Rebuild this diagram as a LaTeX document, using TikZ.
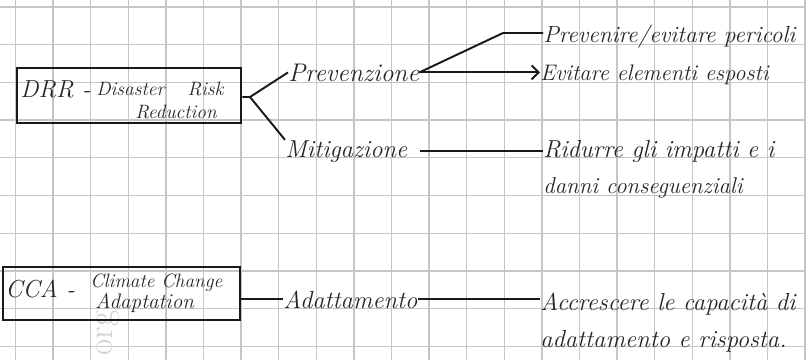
\documentclass[tikz,border=0pt]{standalone}
\usepackage{tikz}
\usetikzlibrary{arrows.meta}

\begin{document}
\begin{tikzpicture}[x=0.02cm, y=-0.02cm, >={Straight Barb[length=4pt]},
  gridline/.style={gray!45, line width=0.7pt},
  boxnode/.style={draw=black!90, line width=1.5pt, inner sep=0pt},
  link/.style={black!90, line width=1.1pt},
  hand/.style={inner sep=0pt, anchor=base west, text=black!85,
    font=\fontsize{#1}{#1}\selectfont\itshape},
  hand/.default=14]

% -------------------------------------------------------
% 1. Squared paper
% -------------------------------------------------------
\useasboundingbox (0,0) rectangle (806,360);
\fill[white] (0,0) rectangle (806,360);
\foreach \gx in {0,...,21} {
  \draw[gridline] ({15.5+37.6*\gx},0) -- ({15.5+37.6*\gx},360);
}
\foreach \gy in {0,...,9} {
  \draw[gridline] (0,{7+37.7*\gy}) -- (806,{7+37.7*\gy});
}
\node[gray!35, rotate=90, font=\fontsize{20}{20}\selectfont] (wmark) at (108,333) {org};

% -------------------------------------------------------
% 2. DRR branch
% -------------------------------------------------------
\node[boxnode, minimum width=4.48cm, minimum height=1.1cm] (drr) at (129,95.5) {};
\node[hand=14] (drrname) at (20,97) {DRR -};
\node[hand=11] (drrtop) at (96,95) {Disaster\hspace{1.2em}Risk};
\node[hand=11] (drrbot) at (135,118) {Reduction};

\node[hand=14.5] (prev) at (288,81) {Prevenzione};
\node[hand] (miti) at (285,157) {Mitigazione};

\node[hand=13.3] (pericoli) at (543,42) {Prevenire/evitare pericoli};
\node[hand=12.8] (esposti) at (540,80) {Evitare elementi esposti};
\node[hand] (impatti) at (543,157) {Ridurre gli impatti e i};
\node[hand=13] (danni) at (543,193) {danni conseguenziali};

\coordinate (drrfork) at (250,97);
\coordinate (prevbend) at (503,33);

\draw[link] (drr.east |- drrfork) -- (drrfork) -- (prev.west);
\draw[link] (drrfork) -- (miti.north west);
\draw[link] (prev.east) -- (prevbend) -- (prevbend -| pericoli.west);
\draw[link, ->] (prev.east) -- (prev.east -| esposti.west);
\draw[link, shorten <=0.25cm] (miti.east) -- (miti.east -| impatti.west);

% -------------------------------------------------------
% 3. CCA branch
% -------------------------------------------------------
\node[boxnode, minimum width=4.74cm, minimum height=1.06cm] (cca) at (121.5,293.5) {};
\node[hand] (ccaname) at (5,297) {CCA -};
\node[hand=11] (ccatop) at (90,287) {Climate Change};
\node[hand=12] (ccabot) at (95,308) {Adaptation};

\node[hand] (adat) at (283,308) {Adattamento};
\node[hand] (capac) at (540,310) {Accrescere le capacità di};
\node[hand] (risp) at (540,347) {adattamento e risposta.};

\draw[link] (adat.west -| cca.east) -- (adat.west);
\draw[link] (adat.east) -- (adat.east -| capac.west);

\end{tikzpicture}
\end{document}
